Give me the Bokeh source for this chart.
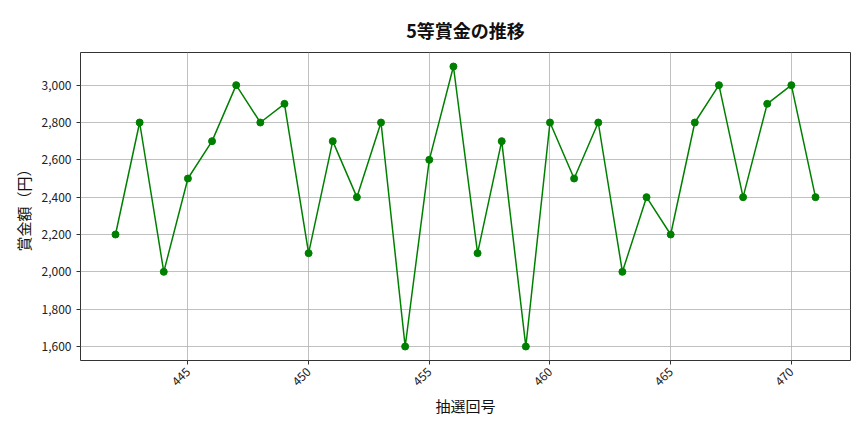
import math
from bokeh.plotting import figure
from bokeh.models import SingleIntervalTicker, NumeralTickFormatter, Range1d
from bokeh.embed import file_html
from bokeh.resources import INLINE

draws = list(range(442, 472))
prizes = [2200, 2800, 2000, 2500, 2700, 3000, 2800, 2900, 2100, 2700,
          2400, 2800, 1600, 2600, 3100, 2100, 2700, 1600, 2800, 2500,
          2800, 2000, 2400, 2200, 2800, 3000, 2400, 2900, 3000, 2400]
title_text = "5等賞金の推移"
x_label = "抽選回号"
y_label = "賞金額（円）"

FONT = "Noto Sans CJK JP"
GREEN = "#008000"

xpad = (max(draws) - min(draws)) * 0.05
ypad = (max(prizes) - min(prizes)) * 0.05

p = figure(width=856, height=424, output_backend="svg", toolbar_location=None,
           min_border_left=80, min_border_right=6, min_border_top=52, min_border_bottom=64,
           x_range=Range1d(min(draws) - xpad, max(draws) + xpad),
           y_range=Range1d(min(prizes) - ypad, max(prizes) + ypad),
           title=title_text)

p.title.text_font = FONT
p.title.text_font_size = "18px"
p.title.text_font_style = "bold"
p.title.align = "center"
p.title.text_color = "#111111"
p.title.offset = 0
p.title.standoff = 16
p.title.vertical_align = "top"

p.line(draws, prizes, line_color=GREEN, line_width=1.5)
p.scatter(draws, prizes, size=7, fill_color=GREEN, line_color=GREEN)

p.xaxis.ticker = SingleIntervalTicker(interval=5)
p.yaxis.ticker = SingleIntervalTicker(interval=200)
p.yaxis.formatter = NumeralTickFormatter(format="0,0")
p.xaxis.major_label_orientation = math.pi / 4

for ax in (p.xaxis, p.yaxis):
    ax.major_label_text_font = FONT
    ax.major_label_text_font_size = "12px"
    ax.major_label_text_color = "#222222"
    ax.axis_label_text_font = FONT
    ax.axis_label_text_font_size = "15px"
    ax.axis_label_text_font_style = "normal"
    ax.axis_label_text_color = "#111111"
    ax.minor_tick_line_color = None
    ax.major_tick_in = 0
    ax.major_tick_out = 4
    ax.axis_line_color = None
    ax.major_tick_line_color = "#333333"

p.xaxis.axis_label = x_label
p.yaxis.axis_label = y_label
p.xaxis.axis_label_standoff = 2

p.xgrid.grid_line_color = "#b0b0b0"
p.ygrid.grid_line_color = "#b0b0b0"
p.xgrid.grid_line_width = 0.8
p.ygrid.grid_line_width = 0.8

p.outline_line_color = "#333333"
p.outline_line_width = 1
p.background_fill_color = "white"
p.border_fill_color = "white"

open("out.html", "w").write(file_html(p, INLINE))
